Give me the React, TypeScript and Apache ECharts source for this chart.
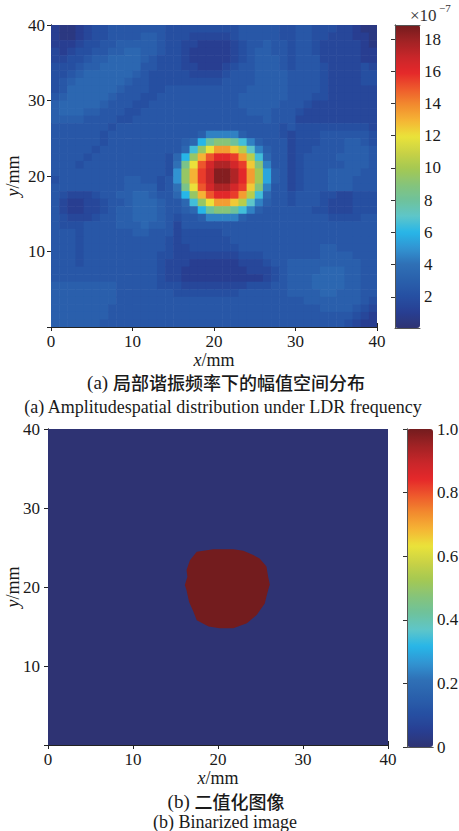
import React, { useEffect, useRef } from 'react';
import * as echarts from 'echarts';

// ---------- data ----------
const xTicks = [0, 10, 20, 30, 40];
const yTicks = [10, 20, 30, 40];
const ampBarTicks = [2, 4, 6, 8, 10, 12, 14, 16, 18];
const binBarTicks = [0, 0.2, 0.4, 0.6, 0.8, 1.0];
const ampRange = [0.07, 18.87]; // ×10^-7
const binRange = [0, 1];

// amplitude level codes: value = index * 0.5 (×10^-7)
const levelCodes = '0123456789abcdefghijklmnopqrstuvwxyzAB';
// rows from y = 39.5 mm (top) down to y = 0.5 mm; columns x = 0.5 ... 39.5 mm
const amplitudeRows = [
  '21123 44555 55554 44444 44455 55544 55444 33211',
  '21123 44555 56654 44333 33455 55544 55443 33221',
  '22234 45566 66654 43322 22345 56554 55433 33321',
  '32344 55667 76654 43222 22345 66554 55433 33322',
  '33445 66777 76544 43222 22345 66654 55533 33322',
  '44456 67777 75544 43322 23455 66654 55543 33343',
  '44567 77777 65444 44333 34555 66665 55543 33344',
  '45677 77776 55444 44444 45555 66665 55543 33344',
  '45777 77765 55445 55555 55556 66665 55543 33333',
  '56777 77655 54455 55555 55566 66665 55443 33333',
  '67777 76555 44555 55555 55566 66655 54333 33333',
  '67776 65554 45555 55555 55556 66555 43333 33333',
  '66665 55544 55555 55555 55555 56555 33333 33333',
  '55555 55455 55555 55555 55555 55545 44444 44443',
  '55555 54555 55555 55569 99965 55543 44455 55554',
  '55555 54555 55555 567cg iigd9 65553 44455 56654',
  '55555 45555 55555 57djo rrple 96553 44555 56665',
  '55554 55555 55554 7cjqu wwvrl d7553 45555 66665',
  '55545 55555 55554 8houx zzxvp i9553 45555 56665',
  '55555 55555 55554 ajqvy BBzwr kb653 45556 66655',
  '45555 55556 65545 ajqvy BBzwr kb653 45556 66555',
  '55555 55556 66645 8houx zzxvp i9553 45556 66555',
  '54333 45566 77655 7cjqu wwvrl d7554 55544 33444',
  '53223 34556 77765 57djo rrple 96554 55543 33444',
  '53223 34566 77765 567cg iigd9 65555 55443 33444',
  '54333 45566 77765 45569 99965 55555 55554 44455',
  '54445 55566 67665 35555 55555 55555 55555 55555',
  '55545 55555 66555 34444 45555 55555 55555 55555',
  '55545 55555 55554 34444 44555 55555 55555 55555',
  '55545 55555 55554 33444 44455 55555 55566 55555',
  '55545 55555 55544 33333 33344 45555 55566 66555',
  '55545 55555 55543 33222 22233 34556 66666 66655',
  '55555 55555 55543 32222 22223 33456 66677 76655',
  '55555 55555 55543 32222 22222 23456 66777 76655',
  '66666 66655 55544 43333 33334 44556 66777 76655',
  '66666 66655 55555 44444 44455 55556 66677 66655',
  '66666 66655 55555 55555 55555 55555 56666 66654',
  '66666 66555 55555 55555 55555 55555 55566 66543',
  '66666 66555 55555 55555 55555 55555 55555 55432',
  '66666 65555 55555 55555 55555 55555 55555 54322',
];

// outline of the binarized defect region (x, y in mm)
const discOutline = [
  [19.45, 24.77], [21.8, 24.77], [22.98, 24.6], [24.15, 24.05], [24.9, 23.6],
  [25.7, 22.6], [25.9, 21.3], [26.1, 20.3], [26.0, 20.0], [25.7, 18.8],
  [25.5, 17.9], [24.55, 16.45], [23.4, 15.4], [21.8, 14.77], [20.2, 14.77],
  [18.9, 15.0], [17.5, 15.8], [17.1, 16.9], [16.6, 18.1], [16.3, 19.6],
  [16.1, 20.25], [16.4, 21.3], [16.3, 22.15], [16.7, 23.4], [17.5, 24.47],
];
const binaryLevels = [0, 1]; // background, defect

const jetColors = [
  '#2e3373', '#283f93', '#2650a2', '#2a60ac', '#2f70b6', '#3194d2', '#27b6e8',
  '#5ec6c9', '#6ec29c', '#86c47a', '#a5c852', '#c9d245', '#eae33a', '#f5b535',
  '#f28b2e', '#ee5a2c', '#e5282a', '#c8262a', '#a02224', '#731c1e',
];

// ---------- build ----------
const ampData: number[][] = [];
amplitudeRows.forEach((row, r) => {
  const s = row.replace(/ /g, '');
  const y = 39.5 - r;
  for (let c = 0; c < s.length; c++) {
    ampData.push([c + 0.5, y, levelCodes.indexOf(s[c]) * 0.5]);
  }
});
const binData = binaryLevels.map((v) => [20, 20, v]);

const serif = 'Liberation Serif';
const cjk = 'Noto Sans CJK SC';
const ink = '#1a1a1a';
const labelStyle = { fontFamily: serif, fontSize: 17, lineHeight: 17, color: ink };
const mainLine = { show: true, lineStyle: { color: '#222', width: 1 } };
const inTick = { show: true, inside: true, length: 4, lineStyle: { color: '#222', width: 1 } };
const barLine = { show: true, lineStyle: { color: '#555', width: 1 } };
const xMin = xTicks[0];
const xMax = xTicks[xTicks.length - 1];

const nameStyle = {
  fontFamily: serif, fontSize: 18, lineHeight: 18, color: ink,
  rich: {
    i: { fontFamily: serif, fontSize: 18, lineHeight: 18, fontStyle: 'italic', color: ink },
    n: { fontFamily: serif, fontSize: 18, lineHeight: 18, color: ink },
  },
};

function plotAxes(grid: number, labelMargin: number, xGap: number, yGap: number) {
  const xs = [
    {
      gridIndex: grid, type: 'value', min: xMin, max: xMax, interval: 10, position: 'bottom',
      axisLine: mainLine, axisTick: inTick, splitLine: { show: false },
      axisLabel: { ...labelStyle, margin: 6 },
      name: '{i|x}{n|/mm}', nameLocation: 'middle', nameGap: xGap, nameMoveOverlap: false,
      nameTextStyle: nameStyle,
    },
    {
      gridIndex: grid, type: 'value', min: xMin, max: xMax, interval: 10, position: 'top',
      axisLine: mainLine, axisTick: inTick, splitLine: { show: false }, axisLabel: { show: false },
    },
  ];
  const ys = [
    {
      gridIndex: grid, type: 'value', min: xMin, max: xMax, interval: 10, position: 'left',
      axisLine: mainLine, axisTick: inTick, splitLine: { show: false },
      axisLabel: {
        ...labelStyle, margin: labelMargin,
        formatter: (v: number) => (yTicks.indexOf(v) >= 0 ? String(v) : ''),
      },
      name: '{i|y}{n|/mm}', nameLocation: 'middle', nameGap: yGap, nameRotate: 90,
      nameMoveOverlap: false, nameTextStyle: nameStyle,
    },
    {
      gridIndex: grid, type: 'value', min: xMin, max: xMax, interval: 10, position: 'right',
      axisLine: mainLine, axisTick: inTick, splitLine: { show: false }, axisLabel: { show: false },
    },
  ];
  return { xs, ys };
}

function barAxes(grid: number, range: number[], ticks: number[], fmt: (v: number) => string) {
  const xs = ['bottom', 'top'].map((pos) => ({
    gridIndex: grid, type: 'value', min: 0, max: 1, position: pos, z: 10,
    axisLine: barLine, axisTick: { show: false }, axisLabel: { show: false }, splitLine: { show: false },
  }));
  const ys = [
    {
      gridIndex: grid, type: 'value', min: range[0], max: range[1], position: 'left', z: 10,
      axisLine: barLine, axisTick: { show: false }, axisLabel: { show: false }, splitLine: { show: false },
    },
    {
      gridIndex: grid, type: 'value', min: range[0], max: range[1], position: 'right', z: 10,
      axisLine: barLine, splitLine: { show: false },
      axisTick: { show: true, inside: true, length: 4, customValues: ticks, lineStyle: { color: '#333' } },
      axisLabel: { ...labelStyle, margin: 4, customValues: ticks, formatter: fmt },
    },
  ];
  return { xs, ys };
}

const topPlot = plotAxes(0, 6, 24, 29);
const topBar = barAxes(1, ampRange, ampBarTicks, (v) => String(v));
const botPlot = plotAxes(2, 8, 24, 26);
const botBar = barAxes(3, binRange, binBarTicks, (v) => (v === 0 ? '0' : v.toFixed(1)));

const gridBase = { containLabel: false, outerBoundsMode: 'none' };

const option: any = {
  animation: false,
  backgroundColor: '#ffffff',
  textStyle: { fontFamily: serif },
  grid: [
    { ...gridBase, left: 51, top: 25, width: 326, height: 302 },
    { ...gridBase, left: 395, top: 25, width: 25, height: 303 },
    { ...gridBase, left: 48, top: 429, width: 340, height: 316 },
    { ...gridBase, left: 407, top: 429, width: 26, height: 318 },
  ],
  xAxis: [...topPlot.xs, ...topBar.xs, ...botPlot.xs, ...botBar.xs],
  yAxis: [...topPlot.ys, ...topBar.ys, ...botPlot.ys, ...botBar.ys],
  visualMap: [
    {
      type: 'continuous', seriesIndex: 0, dimension: 2, min: ampRange[0], max: ampRange[1],
      inRange: { color: jetColors }, left: 395, top: 25, itemWidth: 25, itemHeight: 303,
      calculable: false, hoverLink: false, padding: 0, z: 4,
    },
    {
      type: 'continuous', seriesIndex: 1, dimension: 2, min: binRange[0], max: binRange[1],
      inRange: { color: jetColors }, left: 407, top: 429, itemWidth: 26, itemHeight: 318,
      calculable: false, hoverLink: false, padding: 0, z: 4,
    },
  ],
  series: [
    {
      type: 'custom', xAxisIndex: 0, yAxisIndex: 0, clip: true,
      encode: { x: 0, y: 1 },
      data: ampData,
      renderItem: (_p: any, api: any) => {
        const x = api.value(0);
        const y = api.value(1);
        const a = api.coord([x - 0.5, y + 0.5]);
        const b = api.coord([x + 0.5, y - 0.5]);
        return {
          type: 'rect',
          shape: { x: a[0], y: a[1], width: b[0] - a[0] + 0.6, height: b[1] - a[1] + 0.6 },
          style: { fill: api.visual('color') },
        };
      },
    },
    {
      type: 'custom', xAxisIndex: 4, yAxisIndex: 4, clip: true,
      encode: { x: 0, y: 1 },
      data: binData,
      renderItem: (_p: any, api: any) => {
        const v = api.value(2);
        const color = api.visual('color');
        if (v === binaryLevels[0]) {
          const a = api.coord([xMin, xMax]);
          const b = api.coord([xMax, xMin]);
          return {
            type: 'rect',
            shape: { x: a[0], y: a[1], width: b[0] - a[0], height: b[1] - a[1] },
            style: { fill: color },
          };
        }
        return {
          type: 'polygon',
          shape: { points: discOutline.map((p) => api.coord(p)) },
          style: { fill: color },
        };
      },
    },
  ],
  graphic: [
    { type: 'text', x: 410, y: 15, style: { text: '×10', font: `17px "${serif}"`, fill: '#333', verticalAlign: 'middle' } },
    { type: 'text', x: 439, y: 8, style: { text: '−7', font: `11px "${serif}"`, fill: '#333', verticalAlign: 'middle' } },
    {
      type: 'text', x: 226, y: 382,
      style: {
        text: '{p|(a) }{c|局部谐振频率下的幅值空间分布}', align: 'center', verticalAlign: 'middle',
        rich: {
          p: { fontFamily: serif, fontSize: 19, lineHeight: 19, fill: ink },
          c: { fontFamily: cjk, fontSize: 18, lineHeight: 19, fontWeight: 500, fill: ink },
        },
      },
    },
    {
      type: 'text', x: 223, y: 407,
      style: { text: '(a) Amplitudespatial distribution under LDR frequency', font: `18px "${serif}"`, fill: ink, align: 'center', verticalAlign: 'middle' },
    },
    {
      type: 'text', x: 226, y: 801,
      style: {
        text: '{p|(b) }{c|二值化图像}', align: 'center', verticalAlign: 'middle',
        rich: {
          p: { fontFamily: serif, fontSize: 19, lineHeight: 19, fill: ink },
          c: { fontFamily: cjk, fontSize: 18, lineHeight: 19, fontWeight: 500, fill: ink },
        },
      },
    },
    {
      type: 'text', x: 225, y: 822,
      style: { text: '(b) Binarized image', font: `18px "${serif}"`, fill: ink, align: 'center', verticalAlign: 'middle' },
    },
  ],
};

export default function App() {
  const ref = useRef<HTMLDivElement>(null);
  useEffect(() => {
    document.body.style.margin = '0';
    const chart = echarts.init(ref.current as HTMLDivElement, null, { renderer: 'svg' });
    chart.setOption(option);
    return () => chart.dispose();
  }, []);
  return <div ref={ref} style={{ width: 459, height: 831 }} />;
}
